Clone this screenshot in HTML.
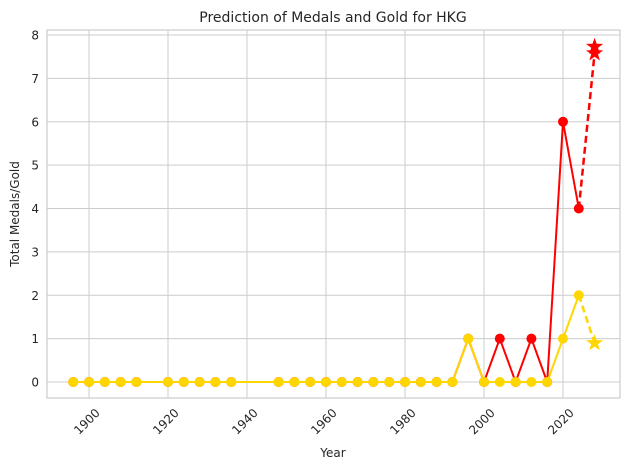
<!DOCTYPE html>
<html><head><meta charset="utf-8"><style>
body{margin:0;background:#fff;font-family:"Liberation Sans","DejaVu Sans",sans-serif;}
svg text{font-family:"DejaVu Sans","Liberation Sans",sans-serif;fill:#262626;}
</style></head><body>
<svg id="chart" width="630" height="470"></svg>
<script>
const years=[1896,1900,1904,1908,1912,1920,1924,1928,1932,1936,1948,1952,1956,1960,1964,1968,1972,1976,1980,1984,1988,1992,1996,2000,2004,2008,2012,2016,2020,2024];
const totalMedals=[0,0,0,0,0,0,0,0,0,0,0,0,0,0,0,0,0,0,0,0,0,0,1,0,1,0,1,0,6,4];
const goldMedals=[0,0,0,0,0,0,0,0,0,0,0,0,0,0,0,0,0,0,0,0,0,0,1,0,0,0,0,0,1,2];
const predYear=2028;
const predTotal=[7.73,7.58];
const predGold=[0.9];
const xTicks=[1900,1920,1940,1960,1980,2000,2020];
const yTicks=[0,1,2,3,4,5,6,7,8];
const NS="http://www.w3.org/2000/svg";
const svg=document.getElementById('chart');
const L=47,R=620,T=30,B=398;
const x=v=>89+(v-1900)*(563-89)/120;
const y=v=>382-v*(382-35)/8;
function mk(tag,attrs,parent){const e=document.createElementNS(NS,tag);for(const k in attrs)e.setAttribute(k,attrs[k]);(parent||svg).appendChild(e);return e;}
const grid=mk('g',{});


xTicks.forEach(t=>{mk('line',{x1:x(t),x2:x(t),y1:T,y2:B,stroke:'#cccccc','stroke-width':1},grid);
const tx=mk('text',{x:x(t),y:B+8,'font-size':12,'text-anchor':'end',transform:`rotate(-45 ${x(t)+6} ${B+10})`});


tx.setAttribute('x',x(t)+6);tx.setAttribute('y',B+18);tx.textContent=t;});
yTicks.forEach(t=>{mk('line',{x1:L,x2:R,y1:y(t),y2:y(t),stroke:'#cccccc','stroke-width':1},grid);
const tx=mk('text',{x:L-8,y:y(t)+4.5,'font-size':12,'text-anchor':'end'});


tx.textContent=t;});
const frame=mk('rect',{x:L,y:T,width:R-L,height:B-T,fill:'none',stroke:'#cccccc','stroke-width':1.2});


function star(cx,cy,r,color,name){let p=[];for(let i=0;i<10;i++){const a=-Math.PI/2+i*Math.PI/5;const rr=i%2?r*0.4:r;p.push((cx+rr*Math.cos(a)).toFixed(1)+','+(cy+rr*Math.sin(a)).toFixed(1));}
const s=mk('polygon',{points:p.join(' '),fill:color});

}
function series(vals,pred,color,name){
const pts=years.map((yr,i)=>x(yr)+','+y(vals[i])).join(' ');
const l=mk('polyline',{points:pts,fill:'none',stroke:color,'stroke-width':2});


years.forEach((yr,i)=>{const c=mk('circle',{cx:x(yr),cy:y(vals[i]),r:5,fill:color});

});
const last=years.length-1;
const d=mk('line',{x1:x(years[last]),y1:y(vals[last]),x2:x(predYear),y2:y(pred[pred.length-1]),stroke:color,'stroke-width':2.5,'stroke-dasharray':'7,4'});


pred.forEach(v=>star(x(predYear),y(v),9,color,name+'-prediction-star'));}
series(totalMedals,predTotal,'#ff0000','total');
series(goldMedals,predGold,'#ffd700','gold');
const title=mk('text',{x:333,y:22,'font-size':14,'text-anchor':'middle'});


title.textContent='Prediction of Medals and Gold for HKG';
const xl=mk('text',{x:333,y:457,'font-size':12,'text-anchor':'middle'});


xl.textContent='Year';
const yl=mk('text',{x:19,y:214,'font-size':12,'text-anchor':'middle',transform:'rotate(-90 19 214)'});


yl.textContent='Total Medals/Gold';
</script>
</body></html>
